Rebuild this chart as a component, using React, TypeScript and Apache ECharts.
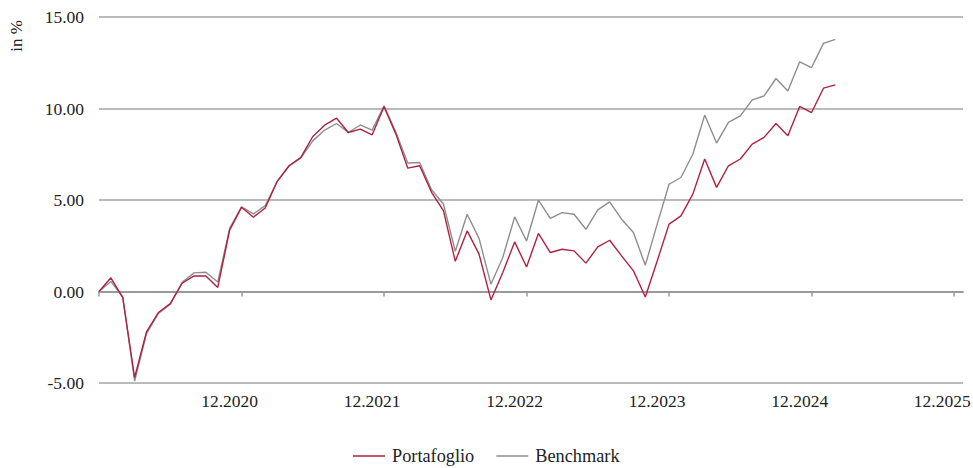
import React, { useEffect, useRef } from "react";
import * as echarts from "echarts";

// Monthly observations, index 0 = 12.2019
const portafoglio = [
  0, 0.75, -0.33, -4.7, -2.2, -1.15, -0.66, 0.45, 0.85, 0.85, 0.22, 3.35,
  4.6, 4.06, 4.56, 6.02, 6.87, 7.33, 8.47, 9.09, 9.47, 8.69, 8.87, 8.56,
  10.1, 8.6, 6.74, 6.87, 5.42, 4.42, 1.65, 3.31, 2.04, -0.46, 1.04, 2.71,
  1.34, 3.17, 2.13, 2.31, 2.22, 1.55, 2.44, 2.8, 1.95, 1.13, -0.3, 1.67,
  3.68, 4.13, 5.32, 7.24, 5.69, 6.87, 7.24, 8.05, 8.42, 9.18, 8.51, 10.11,
  9.78, 11.11, 11.29,
];
const benchmark = [
  0, 0.55, -0.3, -4.9, -2.3, -1.2, -0.7, 0.5, 1.02, 1.05, 0.52, 3.45,
  4.63, 4.24, 4.69, 6.0, 6.85, 7.3, 8.23, 8.82, 9.18, 8.69, 9.1, 8.82,
  10.15, 8.7, 7.02, 7.05, 5.56, 4.78, 2.2, 4.22, 2.9, 0.4, 1.86, 4.08,
  2.76, 4.99, 4.0, 4.31, 4.22, 3.4, 4.46, 4.9, 3.95, 3.22, 1.44, 3.68,
  5.86, 6.23, 7.5, 9.64, 8.11, 9.24, 9.6, 10.47, 10.69, 11.64, 10.96, 12.55,
  12.24, 13.56, 13.78,
];
const tickLabels = ["12.2020", "12.2021", "12.2022", "12.2023", "12.2024", "12.2025"];
const tickPositions = [0, 12, 24, 36, 48, 60, 72];
const labelPositions = [11, 23, 35, 47, 59, 71];
const seriesNames = ["Portafoglio", "Benchmark"];

const FONT = "'Liberation Serif', serif";

export default function App() {
  const ref = useRef<HTMLDivElement>(null);
  useEffect(() => {
    if (!ref.current) return;
    const chart = echarts.init(ref.current, undefined, { renderer: "svg" });
    chart.setOption({
      animation: false,
      backgroundColor: "#ffffff",
      grid: {
        left: 99,
        right: 10,
        top: 17,
        bottom: 85,
        containLabel: false,
        outerBoundsMode: "none",
      },
      legend: {
        data: seriesNames,
        left: 348,
        top: 442,
        icon: "rect",
        itemWidth: 32,
        itemHeight: 1.5,
        itemGap: 22,
        textStyle: { fontFamily: FONT, fontSize: 18.3, color: "#222", padding: [0, 0, 0, 2] },
      },
      graphic: [
        {
          type: "text",
          x: 16,
          y: 36,
          rotation: Math.PI / 2,
          style: {
            text: "in %",
            fontFamily: FONT,
            fontSize: 17,
            fill: "#222",
            align: "center",
            verticalAlign: "middle",
          },
        },
      ],
      xAxis: {
        type: "value",
        min: 0,
        max: 72.75,
        interval: 12,
        axisLine: { show: true, lineStyle: { color: "#9a9a9a", width: 2 } },
        axisTick: {
          show: true,
          length: 5,
          customValues: tickPositions,
          lineStyle: { color: "#9a9a9a", width: 1.5 },
        },
        axisLabel: {
          customValues: labelPositions,
          formatter: (v: number) => {
            const i = labelPositions.indexOf(Math.round(v));
            return i >= 0 ? tickLabels[i] : "";
          },
          fontFamily: FONT,
          fontSize: 17.5,
          color: "#222",
          margin: 9,
        },
        splitLine: { show: false },
      },
      yAxis: {
        type: "value",
        min: -5,
        max: 15,
        interval: 5,
        axisLine: { show: false },
        axisTick: { show: false },
        axisLabel: {
          formatter: (v: number) => v.toFixed(2),
          fontFamily: FONT,
          fontSize: 17.5,
          color: "#222",
          margin: 15,
        },
        splitLine: { show: true, lineStyle: { color: "#a3a3a3", width: 1.5 } },
      },
      series: [
        {
          name: seriesNames[0],
          type: "line",
          data: portafoglio.map((v, i) => [i, v]),
          symbol: "none",
          showSymbol: false,
          z: 3,
          lineStyle: { color: "#b0213f", width: 1.4 },
          itemStyle: { color: "#b0213f" },
        },
        {
          name: seriesNames[1],
          type: "line",
          data: benchmark.map((v, i) => [i, v]),
          symbol: "none",
          showSymbol: false,
          z: 2,
          lineStyle: { color: "#8e8e8e", width: 1.4 },
          itemStyle: { color: "#8e8e8e" },
        },
      ],
    });
    return () => chart.dispose();
  }, []);
  return <div ref={ref} style={{ width: 973, height: 468, position: "absolute", left: 0, top: 0 }} />;
}
